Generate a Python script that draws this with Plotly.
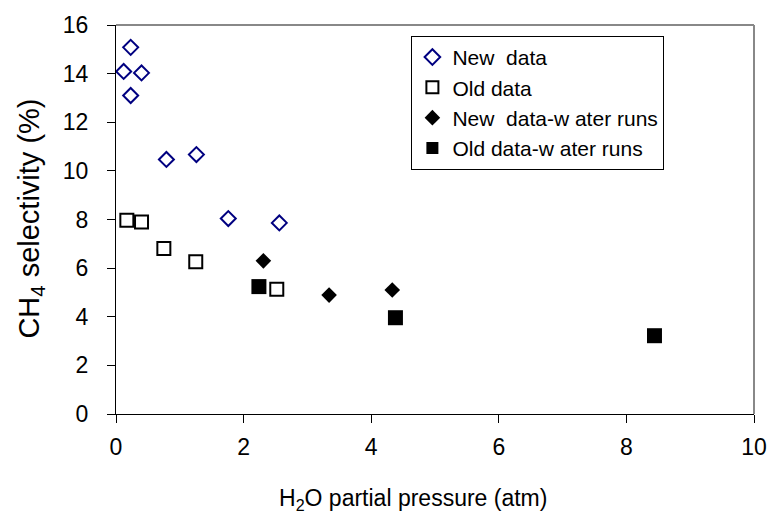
import plotly.graph_objects as go

# H2O partial pressure (atm) vs CH4 selectivity (%)
new_x = [0.12, 0.23, 0.40, 0.23, 0.79, 1.26, 1.76, 2.56]
new_y = [14.09, 15.08, 14.03, 13.10, 10.47, 10.67, 8.04, 7.86]

old_x = [0.17, 0.40, 0.75, 1.25, 2.52]
old_y = [7.97, 7.90, 6.81, 6.26, 5.13]

new_water_x = [2.31, 3.34, 4.33]
new_water_y = [6.30, 4.89, 5.10]

old_water_x = [2.24, 4.38, 8.44]
old_water_y = [5.24, 3.96, 3.22]

series_names = ["New  data", "Old data", "New  data-w ater runs", "Old data-w ater runs"]

x_ticks = [0, 2, 4, 6, 8, 10]
y_ticks = [0, 2, 4, 6, 8, 10, 12, 14, 16]

x_title = "H<sub>2</sub>O partial pressure (atm)"
y_title = "CH<sub>4</sub> selectivity (%)"

FONT = "Liberation Sans, Arial, sans-serif"
NAVY = "#000080"

styles = [
    dict(symbol="diamond-open", size=11.5, color=NAVY, line=dict(width=2, color=NAVY)),
    dict(symbol="square-open", size=13, color="black", line=dict(width=2, color="black")),
    dict(symbol="diamond", size=12, color="black", line=dict(width=0)),
    dict(symbol="square", size=15, color="black", line=dict(width=0)),
]
data = [(new_x, new_y), (old_x, old_y), (new_water_x, new_water_y), (old_water_x, old_water_y)]

fig = go.Figure()
for (xs, ys), name, st in zip(data, series_names, styles):
    fig.add_trace(go.Scatter(x=xs, y=ys, mode="markers", name=name, marker=st,
                             cliponaxis=False))

axis_common = dict(
    showgrid=False, zeroline=False, showline=True, linecolor="black", linewidth=1.3,
    ticks="outside", ticklen=8, tickwidth=1.3, tickcolor="black",
    tickfont=dict(family=FONT, size=23, color="black"),
)

fig.update_layout(
    width=779, height=527,
    margin=dict(l=116, r=17, t=24, b=113),
    paper_bgcolor="white", plot_bgcolor="white",
    font=dict(family=FONT, color="black"),
    xaxis=dict(range=[0, 10], tickvals=x_ticks, ticklabelstandoff=4, **axis_common),
    yaxis=dict(range=[0, 16], tickvals=y_ticks, ticklabelstandoff=14, **axis_common),
    legend=dict(x=0.463, y=0.972, xanchor="left", yanchor="top",
                bordercolor="black", borderwidth=1, bgcolor="white",
                font=dict(family=FONT, size=21, color="black"),
                itemwidth=30, tracegroupgap=0, itemsizing="constant"),
    annotations=[
        dict(text=x_title, xref="paper", yref="paper", x=(417 - 116) / 646, y=-(500 - 414) / 390,
             xanchor="center", yanchor="middle", showarrow=False,
             font=dict(family=FONT, size=23, color="black")),
        dict(text=y_title, xref="paper", yref="paper", x=-(116 - 29) / 646, y=(414 - 218) / 390,
             xanchor="center", yanchor="middle", showarrow=False, textangle=-90,
             font=dict(family=FONT, size=29, color="black")),
    ],
    shapes=[
        dict(type="line", xref="paper", yref="paper", x0=0, x1=1, y0=1, y1=1,
             line=dict(color="#888888", width=2)),
        dict(type="line", xref="paper", yref="paper", x0=1, x1=1, y0=0, y1=1,
             line=dict(color="#888888", width=2)),
    ],
)

fig.write_html("out.html")
